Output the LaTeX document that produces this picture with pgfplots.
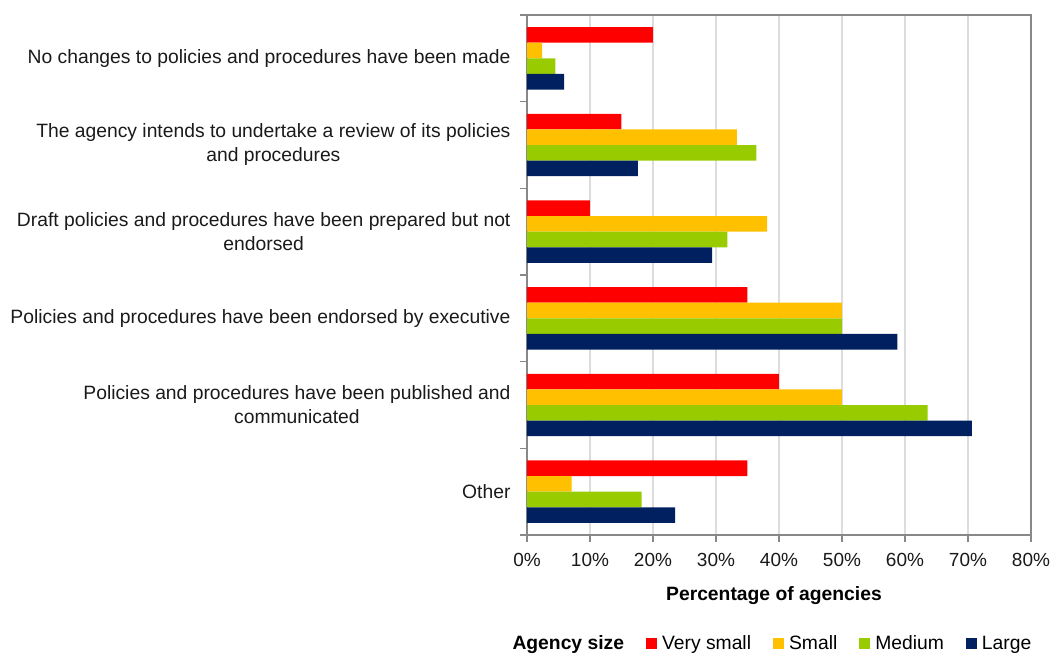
\documentclass[border=0pt]{standalone}
\usepackage{pgfplots}
\pgfplotsset{compat=1.18}
\usepackage{pgfplotstable}
\usepackage{fontspec}
\setmainfont{Liberation Sans}
\definecolor{cRed}{HTML}{FF0000}
\definecolor{cOrange}{HTML}{FFC000}
\definecolor{cGreen}{HTML}{99CC00}
\definecolor{cNavy}{HTML}{002060}
\definecolor{axgray}{HTML}{888888}
\definecolor{gridgray}{HTML}{DCDCDC}
\definecolor{txt}{HTML}{1A1A1A}
\pgfplotstableread{
pos verysmall small medium large
0 20 2.4 4.5 5.9
1 15 33.3 36.4 17.6
2 10 38.1 31.8 29.4
3 35 50 50 58.8
4 40 50 63.6 70.6
5 35 7.1 18.2 23.5
}\datatable
\begin{document}
\begin{tikzpicture}
\useasboundingbox (-527bp,-119bp) rectangle (526bp,535bp);
\begin{axis}[
  at={(0,0)}, anchor=south west,
  scale only axis, width=504bp, height=520bp,
  xbar, bar width=0.18,
  xmin=0, xmax=80, ymin=-0.5, ymax=5.5, y dir=reverse,
  font=\fontsize{19.3bp}{24bp}\selectfont,
  /pgf/number format/assume math mode=true,
  xtick={0,10,...,80},
  xticklabel={\pgfmathprintnumber{\tick}\%},
  xticklabel style={yshift=-8bp, font=\fontsize{19bp}{24bp}\selectfont, text=txt},
  ytick={0,1,2,3,4,5},
  yticklabels={
    {No changes to policies and procedures have been made},
    {The agency intends to undertake a review of its policies\\and procedures},
    {Draft policies and procedures have been prepared but not\\endorsed},
    {Policies and procedures have been endorsed by executive},
    {Policies and procedures have been published and\\communicated},
    {Other}},
  yticklabel style={align=center, xshift=-6bp, text=txt},
  minor ytick={-0.5,0.5,...,5.5},
  major tick length=7bp, minor tick length=7bp,
  tick align=outside,
  xtick pos=bottom, ytick pos=left,
  major y tick style={draw=none},
  minor y tick style={draw=axgray, line width=1.5bp},
  major x tick style={draw=axgray, line width=1.5bp},
  xmajorgrids, grid style={draw=gridgray, line width=1.5bp},
  axis line style={draw=axgray, line width=1.8bp},
  xlabel={\bfseries Percentage of agencies},
  xlabel style={at={(axis description cs:0.49,-0.1165)}, anchor=center, text=black},
  legend style={at={(0.486,-0.208)}, anchor=center, draw=none, fill=none,
    legend columns=5, font=\fontsize{19.3bp}{22bp}\selectfont,
    /tikz/every even column/.append style={column sep=20bp},
    /tikz/every odd column/.append style={column sep=0bp},
    nodes={inner sep=2bp}},
  legend image code/.code={\fill[#1] (0bp,-5.5bp) rectangle (11bp,5.5bp);},
]
\addlegendimage{empty legend}
\addlegendentry{\bfseries Agency size\hspace{-14bp}}
\addplot[fill=cRed, draw=none, bar shift=-0.27] table[x=verysmall, y=pos] {\datatable};
\addlegendentry{\hspace{3bp}Very small}
\addplot[fill=cOrange, draw=none, bar shift=-0.09] table[x=small, y=pos] {\datatable};
\addlegendentry{\hspace{3bp}Small}
\addplot[fill=cGreen, draw=none, bar shift=0.09] table[x=medium, y=pos] {\datatable};
\addlegendentry{\hspace{3bp}Medium}
\addplot[fill=cNavy, draw=none, bar shift=0.27] table[x=large, y=pos] {\datatable};
\addlegendentry{\hspace{3bp}Large}
\end{axis}
\end{tikzpicture}
\end{document}
